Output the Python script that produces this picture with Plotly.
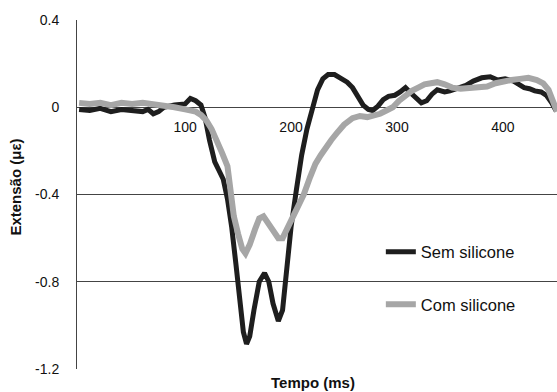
import plotly.graph_objects as go

# Sem silicone (black)
sem_x = [0, 10, 20, 30, 40, 50, 60, 65, 70, 75, 80, 90, 100, 105, 110, 115, 119, 123, 128, 132,
         136, 140, 144, 148, 152, 155, 158, 161, 165, 170, 175, 179, 183, 188, 192, 196, 200, 205,
         210, 215, 220, 225, 230, 235, 241, 247, 253, 258, 263, 268, 273, 277, 282, 287, 292, 298,
         303, 308, 312, 318, 323, 328, 333, 338, 345, 350, 358, 365, 372, 380, 388, 395, 402, 410,
         415, 420, 425, 430, 436, 441, 446, 450]
sem_y = [-0.01, -0.015, -0.005, -0.02, -0.01, -0.015, -0.02, -0.01, -0.03, -0.02, 0.0, 0.01, 0.015,
         0.04, 0.03, 0.01, -0.05, -0.15, -0.25, -0.29, -0.33, -0.42, -0.55, -0.72, -0.90, -1.03,
         -1.085, -1.05, -0.93, -0.80, -0.76, -0.80, -0.90, -0.98, -0.93, -0.75, -0.55, -0.38, -0.22,
         -0.10, 0.0, 0.08, 0.13, 0.15, 0.15, 0.13, 0.115, 0.09, 0.05, 0.01, -0.01, -0.015, 0.005,
         0.035, 0.05, 0.055, 0.07, 0.09, 0.07, 0.04, 0.02, 0.03, 0.06, 0.08, 0.07, 0.075, 0.09, 0.1,
         0.12, 0.135, 0.14, 0.125, 0.13, 0.12, 0.105, 0.09, 0.085, 0.075, 0.07, 0.055, 0.02, -0.015]

# Com silicone (gray)
com_x = [0, 10, 20, 30, 40, 50, 60, 70, 80, 90, 100, 110, 115, 120, 125, 130, 135, 140, 143, 146,
         150, 154, 157, 161, 166, 170, 174, 178, 183, 188, 192, 197, 202, 207, 212, 218, 223, 228,
         233, 238, 243, 250, 258, 265, 272, 278, 284, 290, 296, 302, 308, 314, 320, 326, 332, 338,
         345, 352, 360, 368, 376, 385, 393, 400, 408, 416, 424, 432, 438, 443, 447, 451]
com_y = [0.02, 0.015, 0.02, 0.01, 0.02, 0.015, 0.02, 0.015, 0.005, 0.0, -0.01, -0.02, -0.035, -0.06,
         -0.10, -0.15, -0.21, -0.27, -0.38, -0.50, -0.58, -0.65, -0.67, -0.63, -0.56, -0.51, -0.50,
         -0.53, -0.57, -0.60, -0.60, -0.55, -0.50, -0.45, -0.40, -0.32, -0.26, -0.22, -0.18, -0.15,
         -0.12, -0.08, -0.05, -0.04, -0.045, -0.04, -0.03, -0.015, 0.0, 0.03, 0.055, 0.075, 0.09,
         0.105, 0.11, 0.115, 0.105, 0.09, 0.085, 0.09, 0.09, 0.095, 0.11, 0.12, 0.125, 0.13, 0.135,
         0.125, 0.11, 0.08, 0.035, -0.02]

y_ticks = [-1.2, -0.8, -0.4, 0, 0.4]
y_ticktext = ["-1.2", "-0.8", "-0.4", "0", "0.4"]
x_ticks = [100, 200, 300, 400]
x_ticktext = ["100", "200", "300", "400"]

FONT = "Liberation Sans, Arial, sans-serif"

fig = go.Figure()
fig.add_trace(go.Scatter(x=sem_x, y=sem_y, mode="lines", name="Sem silicone",
                         line=dict(color="#1e1e1e", width=5), legendgroup="a"))
fig.add_trace(go.Scatter(x=com_x, y=com_y, mode="lines", name="Com silicone",
                         line=dict(color="#a6a6a6", width=6), legendgroup="b"))

fig.update_layout(
    width=557, height=392,
    margin=dict(l=77, r=0, t=20, b=23),
    paper_bgcolor="white", plot_bgcolor="white",
    font=dict(family=FONT, size=14, color="#111"),
    legend=dict(x=0.633, y=0.385, xanchor="left", yanchor="top",
                bgcolor="rgba(0,0,0,0)", tracegroupgap=28,
                font=dict(size=16.5, color="#111"), itemwidth=30),
    xaxis=dict(range=[-2, 451], tickvals=x_ticks, ticktext=x_ticktext,
               showgrid=False, zeroline=False, showline=False,
               anchor="free", position=0.75, ticks="", ticklabelstandoff=10,
               tickfont=dict(size=14, color="#111")),
    yaxis=dict(range=[-1.2, 0.4], tickvals=y_ticks, ticktext=y_ticktext,
               showgrid=True, gridcolor="#444", gridwidth=1, zeroline=False,
               showline=True, linecolor="#444", linewidth=1,
               ticks="", ticklabelstandoff=14,
               tickfont=dict(size=14, color="#111")),
    annotations=[
        dict(text="<b>Tempo (ms)</b>", x=0.492, y=-0.040, xref="paper", yref="paper",
             xanchor="center", yanchor="middle", showarrow=False,
             font=dict(size=15, color="#111")),
        dict(text="<b>Extensão (με)</b>", x=-0.129, y=0.52, xref="paper", yref="paper",
             xanchor="center", yanchor="middle", showarrow=False, textangle=-90,
             font=dict(size=15, color="#111")),
    ],
)

fig.write_html("out.html", config={"displayModeBar": False},
               post_script="document.body.style.margin='0px';")
